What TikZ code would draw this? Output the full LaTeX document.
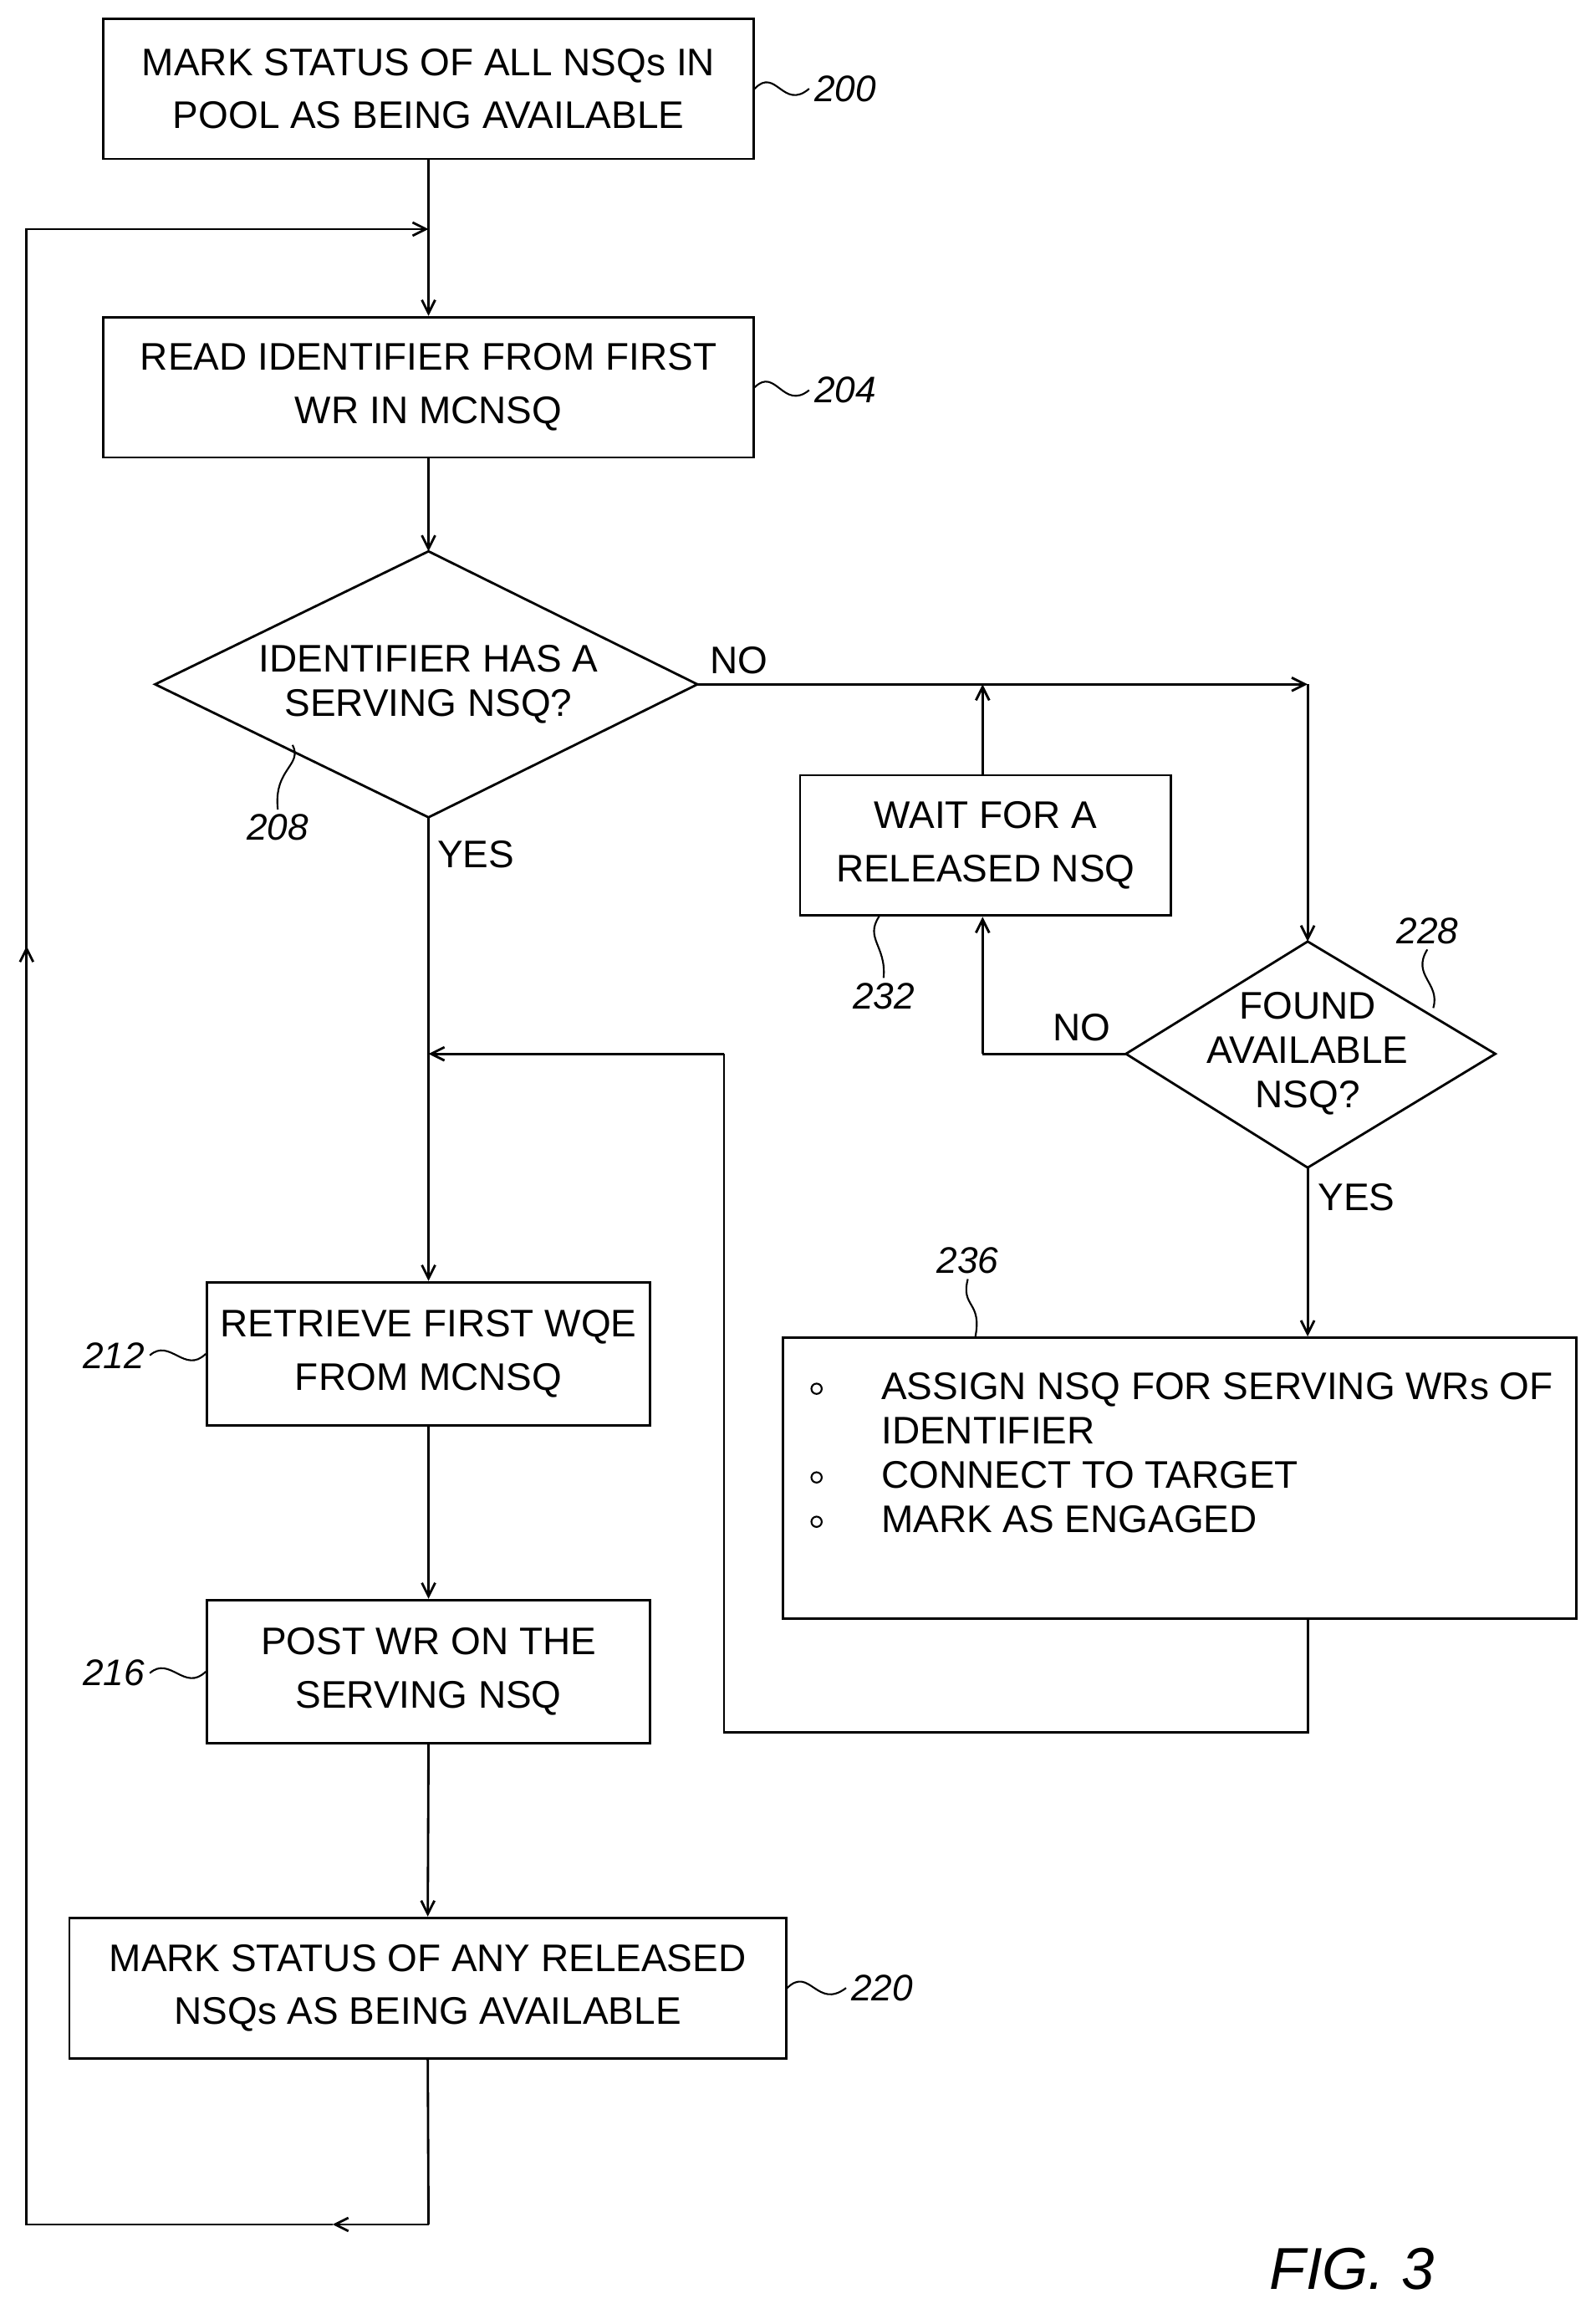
\documentclass[tikz,border=0pt]{standalone}
\usepackage{fontspec}
\setmainfont{Liberation Sans}
\usetikzlibrary{arrows.meta}
\begin{document}
\begin{tikzpicture}[x=1pt,y=-1pt,
 box/.style={draw,line width=1.6pt,align=center,font=\fontsize{26}{36}\selectfont},
 ln/.style={line width=1.6pt},
 ar/.style={ln,-{Straight Barb[length=9pt,width=9pt]}},
 lab/.style={font=\fontsize{25}{30}\selectfont\itshape},
 txt/.style={font=\fontsize{26}{30}\selectfont}]
\useasboundingbox (0,0) rectangle (1080,1569);
\node[box,minimum width=440,minimum height=95] (b200) at (290,60) {MARK STATUS OF ALL NSQs IN\\POOL AS BEING AVAILABLE};
\node[box,minimum width=440,minimum height=95] (b204) at (290,262) {READ IDENTIFIER FROM FIRST\\WR IN MCNSQ};
\draw[ln] (105,463) coordinate (dl) -- (290,373) coordinate (dt) -- (472,463) coordinate (dr) -- (290,553) coordinate (db) -- cycle;
\node[txt,align=center] (t208) at (290,463) {IDENTIFIER HAS A\\SERVING NSQ?};
\node[box,minimum width=251,minimum height=95] (b232) at (667,572) {WAIT FOR A\\RELEASED NSQ};
\draw[ln] (762,713) coordinate (el) -- (885,637) coordinate (et) -- (1012,713) coordinate (er) -- (885,790) coordinate (eb) -- cycle;
\node[txt,align=center] (t228) at (885,713) {FOUND\\AVAILABLE\\NSQ?};
\node[draw,line width=1.6pt,minimum width=537,minimum height=190] (b236) at (798.5,1000) {};
\node[txt,align=left,anchor=north west] (t236) at (545,925) {%
\makebox[48pt][l]{\raisebox{3pt}{\tikz\draw[line width=1.2pt] (0,0) circle (3.5pt);}}ASSIGN NSQ FOR SERVING WRs OF\\
\hspace*{48pt}IDENTIFIER\\
\makebox[48pt][l]{\raisebox{3pt}{\tikz\draw[line width=1.2pt] (0,0) circle (3.5pt);}}CONNECT TO TARGET\\
\makebox[48pt][l]{\raisebox{3pt}{\tikz\draw[line width=1.2pt] (0,0) circle (3.5pt);}}MARK AS ENGAGED};
\node[box,minimum width=300,minimum height=97] (b212) at (290,916) {RETRIEVE FIRST WQE\\FROM MCNSQ};
\node[box,minimum width=300,minimum height=97] (b216) at (290,1131) {POST WR ON THE\\SERVING NSQ};
\node[box,minimum width=485,minimum height=95] (b220) at (289.5,1345) {MARK STATUS OF ANY RELEASED\\NSQs AS BEING AVAILABLE};
% connectors
\draw[ar] (b200.south) -- (b204.north);
\draw[ar] (b204.south) -- (dt);
\draw[ln] (dr) -- (665,463) coordinate (j1);
\draw[ar] (j1) -- (885,463) coordinate (j2);
\draw[ar] (j2) -- (et);
\draw[ar] (b232.north -| j1) -- (j1);
\draw[ln] (el) -- (665,713) coordinate (j3);
\draw[ar] (j3) -- (b232.south -| j3);
\draw[ar] (eb) -- (b236.north -| eb);
\draw[ar] (db) -- (b212.north);
\draw[ln] (b236.south -| eb) -- (885,1172) -- (490,1172) -- (490,713) coordinate (j4);
\draw[ar] (j4) -- (290,713);
\draw[ar] (b212.south) -- (b216.north);
\draw[ar] (b216.south) -- (b220.north);
\draw[ln] (b220.south) -- (290,1505) coordinate (j5);
\draw[ar] (j5) -- (225,1505);
\draw[ln] (225,1505) -- (18,1505) -- (18,640) coordinate (j6);
\draw[ar] (18,1505) -- (j6);
\draw[ln] (j6) -- (18,155) -- (290,155) coordinate (j7);
\draw[ar] (18,155) -- (j7);
% labels
\node[txt] (no1) at (500,447) {NO};
\node[txt] (yes1) at (322,578) {YES};
\node[txt] (no2) at (732,695) {NO};
\node[txt] (yes2) at (918,810) {YES};
\node[lab] (l200) at (572,60) {200};
\node[lab] (l204) at (572,264) {204};
\node[lab] (l208) at (188,560) {208};
\node[lab] (l232) at (598,674) {232};
\node[lab] (l228) at (966,630) {228};
\node[lab] (l236) at (655,853) {236};
\node[lab] (l212) at (77,917) {212};
\node[lab] (l216) at (77,1132) {216};
\node[lab] (l220) at (597,1345) {220};
\draw[line width=1.2pt] (b200.east) .. controls (525,45) and (530,75) .. (l200.west);
\draw[line width=1.2pt] (b204.east) .. controls (525,248) and (530,278) .. (l204.west);
\draw[line width=1.2pt] (l208.north) .. controls (185,520) and (205,518) .. (198,504);
\draw[line width=1.2pt] (l232.north) .. controls (600,640) and (585,635) .. (595,620);
\draw[line width=1.2pt] (l228.south) .. controls (955,660) and (975,665) .. (970,682);
\draw[line width=1.2pt] (l236.south) .. controls (650,885) and (665,880) .. (660,905);
\draw[line width=1.2pt] (l212.east) .. controls (115,905) and (125,930) .. (b212.west);
\draw[line width=1.2pt] (l216.east) .. controls (115,1120) and (125,1145) .. (b216.west);
\draw[line width=1.2pt] (b220.east) .. controls (548,1330) and (553,1360) .. (l220.west);
\node[font=\fontsize{40}{44}\selectfont\itshape] (fig) at (915,1535) {FIG. 3};
\end{tikzpicture}
\end{document}
